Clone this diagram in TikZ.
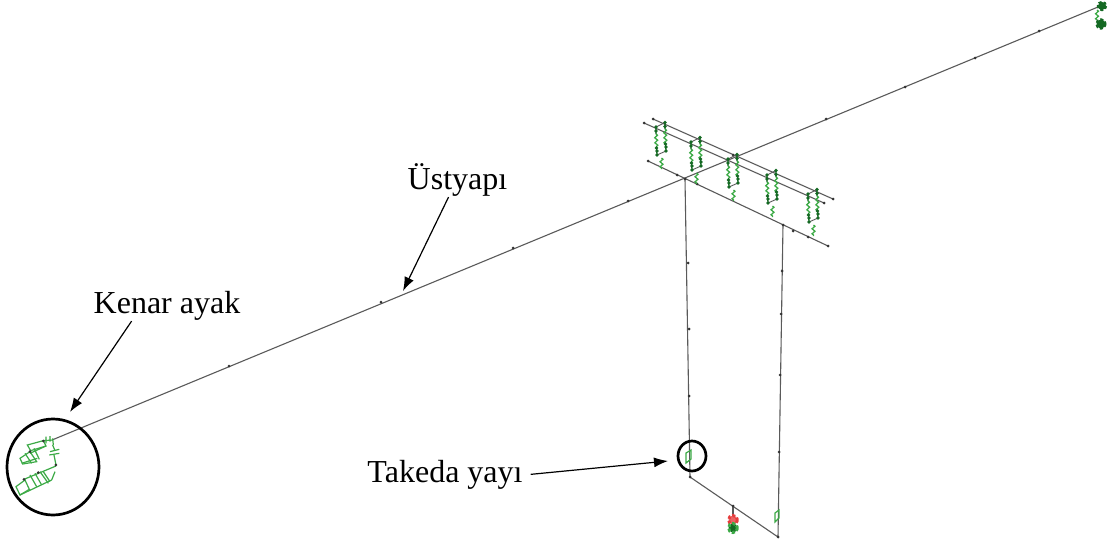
\documentclass[tikz,border=0pt]{standalone}
\usepackage{fontspec}
\setmainfont{Liberation Serif}
\usepackage{xcolor}
\usetikzlibrary{arrows.meta,decorations.pathmorphing}
\definecolor{framegray}{RGB}{90,90,90}
\definecolor{spr}{RGB}{60,170,70}
\definecolor{sprdark}{RGB}{20,105,35}
\definecolor{fixred}{RGB}{230,60,60}
\tikzset{
	hanger/.pic={
		\draw [sprline] (0,7) -- (0.5,21);
		\draw [sprline] (9,2) -- (9.5,17);
		\draw [sprline] (5.5,31) -- (5.5,42);
		\draw [framegray,line width=0.9pt] (0,0) -- (9,-4.5);
		\draw [framegray,line width=0.9pt] (1,28) -- (10,24);
		\draw [sprdark,line width=1.2pt] (0,0) -- (0,7) (9,-4.5) -- (9,2) (0.5,21) -- (1,28) (9.5,17) -- (10,24);
		\foreach \px/\py in {0/0,9/-4.5,0/4,9/-0.5,0.5/21,1/24,1/28,9.5/17,10/20,10/24}
			\node [sprnode] at (\px,\py) {};
	},
	sprline/.style={spr,line width=1.3pt,decorate,decoration={zigzag,amplitude=1.4pt,segment length=5pt}},
	sprnode/.style={circle,fill=sprdark,inner sep=0pt,minimum size=3.8pt},
	beam/.style={framegray,line width=1.1pt},
	jointdot/.style={circle,fill=black!80,inner sep=0pt,minimum size=3pt},
	boxline/.style={spr,line width=1.2pt},
	pointer/.style={black,line width=1.2pt,-{Latex[length=14pt,width=10pt]}},
	ringline/.style={black,line width=2.7pt},
	caption/.style={anchor=base,inner sep=1pt,font=\fontsize{32}{36}\selectfont},
}
\begin{document}
\begin{tikzpicture}[x=1pt,y=-1pt]
	\useasboundingbox [fill=white] (0,0) rectangle (1120,541);
	% frame
	\draw [beam] (52,440) -- (1098,7);
	\draw [beam] (648,161) -- (828,246);
	\draw [beam] (644,123) -- (824,203);
	\draw [beam] (653,119) -- (833,199);
	\draw [beam] (685,179) -- (690,477) -- (778,537) -- (783,225);
	\draw [beam] (733,506) -- (733,516);
	\foreach \px/\py in {229/366,381/302,513/248,628/201,733/155,826/119,905/87,975/58,1039/31,
		688/263,689/329,689/396,782/271,781/314,780/375,779/452,685/179,783/225,690/477,778/537,733/506,
		648/161,828/246,644/123,824/203,653/119,833/199,677/175,697/184,793/231,808/237}
		\node [jointdot] at (\px,\py) {};
	% hangers
	\foreach \px/\py in {656/127,691/142,728/159,767/175,808/194}
		\pic at (\px,\py) {hanger};
	% far end
	\draw [sprline] (1097,10) -- (1097,20);
	\draw [sprdark,fill=sprdark,line width=2.4pt,densely dashed] (1102,6) circle (4);
	\draw [sprdark,fill=sprdark,line width=2.4pt,densely dashed] (1101,24) circle (4.5);
	% piers springs and support
	\draw [boxline] (686,453) -- (691,450) -- (691,459) -- (686,463) -- cycle;
	\draw [boxline] (775,513) -- (779,510) -- (779,518) -- (775,522) -- cycle;
	\draw [fixred,fill=fixred!80,line width=3pt,densely dashed] (733,520) circle (4.5);
	\draw [spr,fill=sprdark,line width=3pt,densely dashed] (733,528) circle (4.5);
	% abutment
	\begin{scope}[shift={(10,430)},x=0.3333pt,y=-0.3333pt]
		\draw [boxline] (52,45) -- (100,32) -- (108,48) -- (62,62) -- cycle;
		\draw [boxline] (30,85) -- (60,65) -- (80,95) -- (38,102) -- cycle;
		\draw [boxline] (45,70) -- (65,100) (60,70) -- (108,48) (35,100) -- (82,85) (72,55) -- (88,88);
		\draw [boxline] (108,20) -- (108,40) (120,18) -- (120,35) (128,25) -- (130,45) (100,32) -- (130,30);
		\draw [boxline] (120,65) -- (148,58) (118,75) -- (148,70) (128,45) -- (135,62) (132,75) -- (138,105);
		\draw [boxline] (18,170) -- (45,150) -- (58,178) -- (30,195) -- cycle;
		\draw [boxline] (42,148) -- (138,108) (30,195) -- (125,150) (125,150) -- (135,125);
		\draw [boxline] (60,135) -- (80,170) (75,130) -- (95,165) (90,125) -- (115,160) (100,125) -- (120,155);
		\node [jointdot] at (100,33) {};
		\node [jointdot] at (60,65) {};
		\node [jointdot] at (42,148) {};
		\node [jointdot] at (85,128) {};
		\node [jointdot] at (138,105) {};
	\end{scope}
	% labels
	\node [caption] (ustyapi) at (457.5,189) {Üstyapı};
	\node [caption] (kenar) at (167,313) {Kenar ayak};
	\node [caption,inner xsep=8pt] (takeda) at (445,482) {Takeda yayı};
	\coordinate (ustyapitip) at (403,291);
	\coordinate (kenartip) at (70,412);
	\coordinate (takedatip) at (668,461);
	\draw [pointer] (ustyapi.243) -- (ustyapitip);
	\draw [pointer] (kenar.204) -- (kenartip);
	\draw [pointer] (takeda.east) -- (takedatip);
	\draw [ringline] (53,467) ellipse (46 and 48);
	\draw [ringline] (692,456) ellipse (14 and 15);
\end{tikzpicture}
\end{document}
